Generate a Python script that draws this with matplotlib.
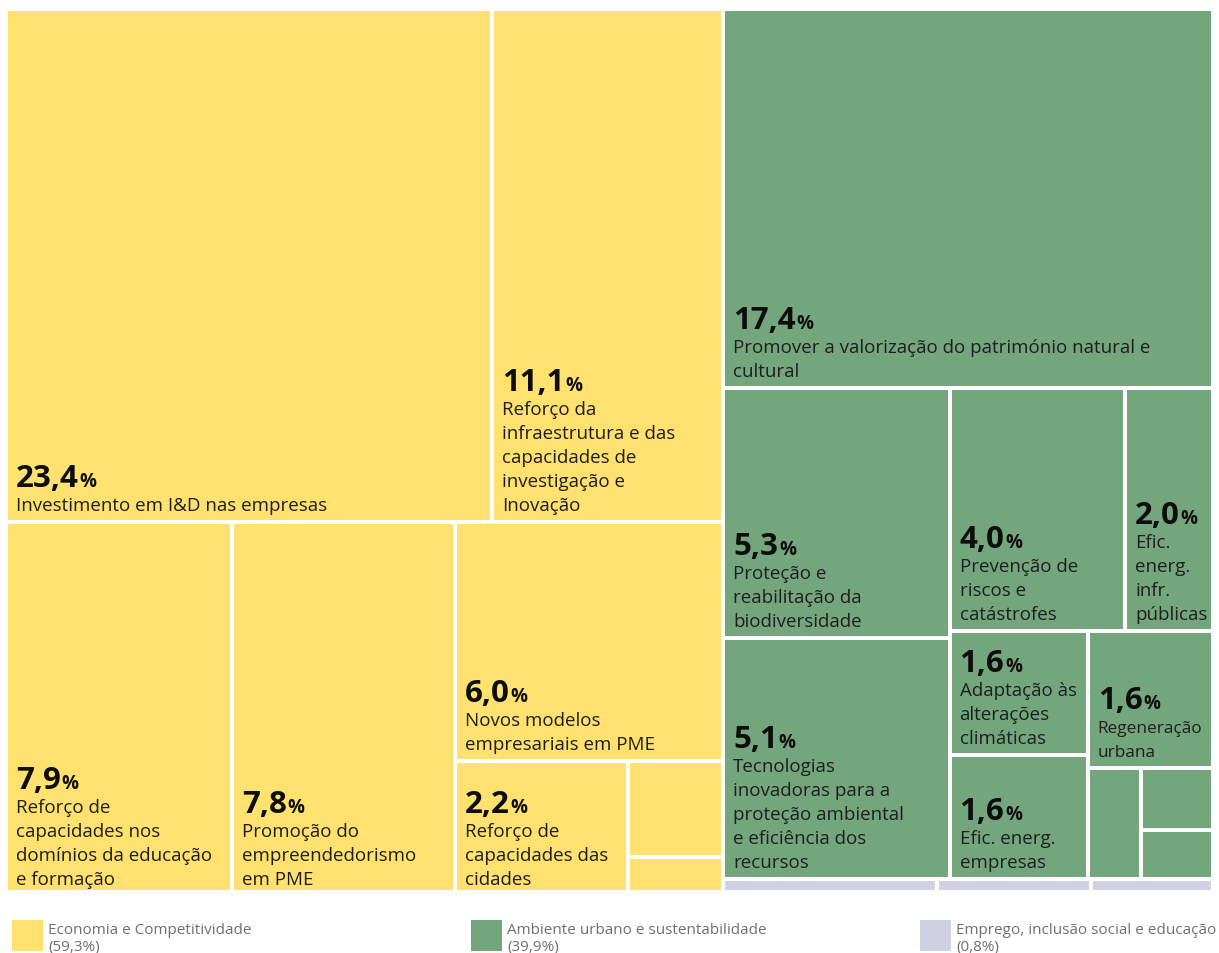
import matplotlib
matplotlib.use("Agg")
import matplotlib.pyplot as plt
from matplotlib.patches import Rectangle

plt.rcParams['font.family'] = ['Open Sans', 'DejaVu Sans']

group_names = ["Economia e Competitividade", "Ambiente urbano e sustentabilidade",
               "Emprego, inclusão social e educação"]
group_shares = ["(59,3%)", "(39,9%)", "(0,8%)"]
group_colors = ["#FFE170", "#74A67D", "#D1D1E4"]

cell_values = [23.4, 11.1, 7.9, 7.8, 6.0, 2.2, 0.85, 0.35,
               17.4, 5.3, 5.1, 4.0, 2.0, 1.6, 1.6, 1.6, 0.55, 0.42, 0.33,
               0.35, 0.25, 0.2]
cell_groups = [0] * 8 + [1] * 11 + [2] * 3
cell_pcts = ["23,4", "11,1", "7,9", "7,8", "6,0", "2,2", "", "",
             "17,4", "5,3", "5,1", "4,0", "2,0", "1,6", "1,6", "1,6", "", "", "",
             "", "", ""]
cell_labels = [
    "Investimento em I&D nas empresas",
    "Reforço da\ninfraestrutura e das\ncapacidades de\ninvestigação e\nInovação",
    "Reforço de\ncapacidades nos\ndomínios da educação\ne formação",
    "Promoção do\nempreendedorismo\nem PME",
    "Novos modelos\nempresariais em PME",
    "Reforço de\ncapacidades das\ncidades",
    "", "",
    "Promover a valorização do património natural e\ncultural",
    "Proteção e\nreabilitação da\nbiodiversidade",
    "Tecnologias\ninovadoras para a\nproteção ambiental\ne eficiência dos\nrecursos",
    "Prevenção de\nriscos e\ncatástrofes",
    "Efic.\nenerg.\ninfr.\npúblicas",
    "Adaptação às\nalterações\nclimáticas",
    "Efic. energ.\nempresas",
    "Regeneração\nurbana",
    "", "", "", "", "", ""]

# nesting of the cells: "h" = side by side, "v" = stacked
tree = ("h", [
    ("v", [("h", [0, 1]),
           ("h", [2, 3, ("v", [4, ("h", [5, ("v", [6, 7])])])])]),
    ("v", [("v", [8, ("h", [("v", [9, 10]),
                            ("v", [("h", [11, 12]),
                                   ("h", [("v", [13, 14]),
                                          ("v", [15, ("h", [16, ("v", [17, 18])])])])])])]),
           ("h", [19, 20, 21])]),
])


def total(node):
    if isinstance(node, int):
        return cell_values[node]
    return sum(total(c) for c in node[1])


def layout(node, x, y, w, h, out):
    if isinstance(node, int):
        out[node] = (x, y, w, h)
        return
    direction, children = node
    s = total(node)
    for c in children:
        f = total(c) / s
        if direction == "h":
            layout(c, x, y, w * f, h, out)
            x += w * f
        else:
            layout(c, x, y, w, h * f, out)
            y += h * f


W, H = 1207, 887
rects = {}
layout(tree, 0, 0, W, H, rects)

fig = plt.figure(figsize=(12.19, 9.54), dpi=100)
ax = fig.add_axes([6 / 1219, (954 - 891) / 954, W / 1219, 881 / 954])
ax.set_xlim(0, W)
ax.set_ylim(881, 0)
ax.axis("off")

gap = 2
line_h = 24
for i, (x, y, w, h) in rects.items():
    ax.add_patch(Rectangle((x + gap, y + gap), w - 2 * gap, h - 2 * gap,
                           facecolor=group_colors[cell_groups[i]], edgecolor="none"))
    if not cell_pcts[i]:
        continue
    fs = 12.4 if i == 15 else 13.5   # narrow cell -> smaller text
    x0 = x + gap + 8
    base = y + h - gap - 10
    lines = cell_labels[i].split("\n")
    for j, line in enumerate(reversed(lines)):
        ax.text(x0, base - j * line_h, line, ha="left", va="baseline",
                fontsize=fs, color="#1e1e1e")
    nb = base - (len(lines) - 1) * line_h - 24
    num = ax.text(x0, nb, cell_pcts[i], ha="left", va="baseline",
                  fontsize=22.5, fontweight="bold", color="#0d0d0d")
    ax.annotate("%", xy=(1, nb), xycoords=(num, "data"), xytext=(0.5, 0),
                textcoords="offset points", ha="left", va="baseline",
                fontsize=13.5, fontweight="bold", color="#0d0d0d")

# legend
lg = fig.add_axes([0, 0, 1, 1])
lg.set_xlim(0, 1219)
lg.set_ylim(954, 0)
lg.axis("off")
lg.patch.set_alpha(0)
for k, lx in enumerate([12, 471, 920]):
    lg.add_patch(Rectangle((lx, 921), 31, 31, facecolor=group_colors[k], edgecolor="none"))
    lg.text(lx + 36, 934, group_names[k], ha="left", va="baseline",
            fontsize=11, color="#707070")
    lg.text(lx + 36, 951, group_shares[k], ha="left", va="baseline",
            fontsize=11, color="#707070")

fig.savefig("out.png", dpi=100)
